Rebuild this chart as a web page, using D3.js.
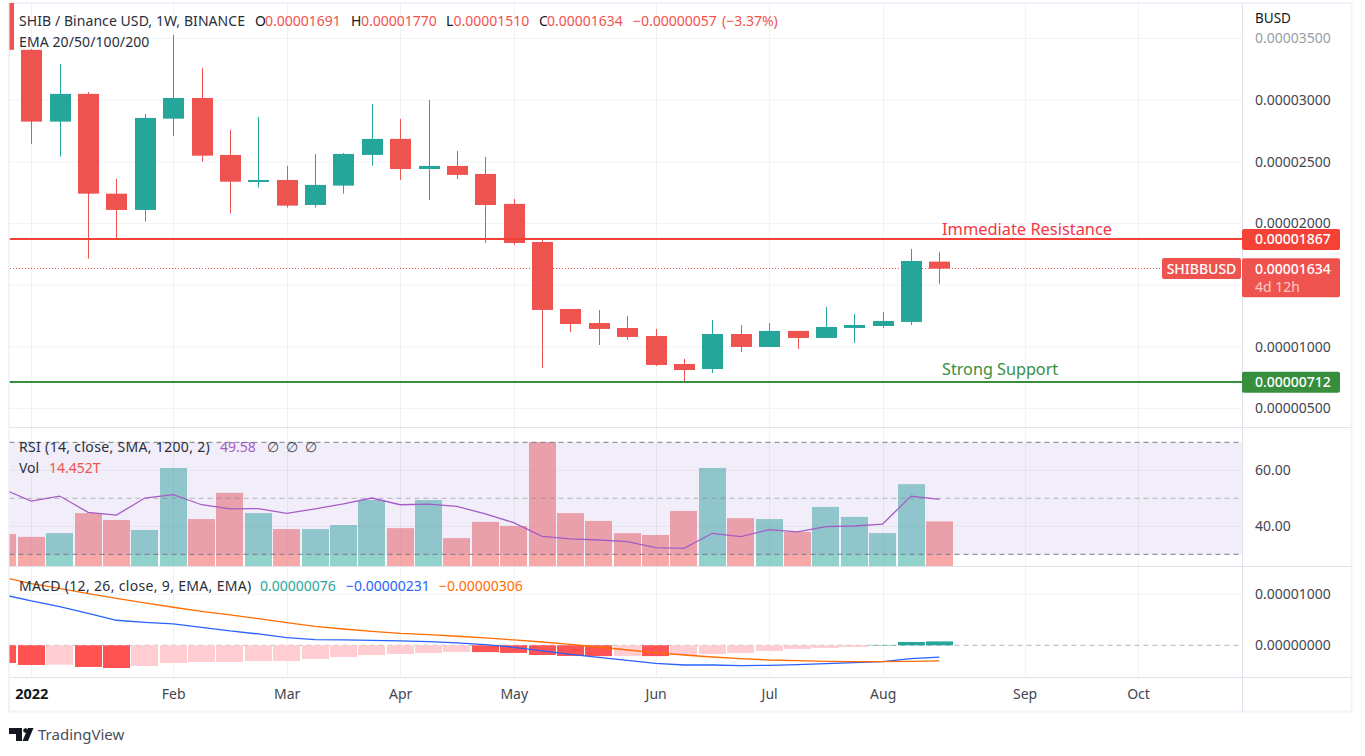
<!DOCTYPE html>
<html>
<head>
<meta charset="utf-8">
<script src="https://cdnjs.cloudflare.com/ajax/libs/d3/7.8.5/d3.min.js"></script>
<style>
  html, body { margin: 0; padding: 0; background: #fff; }
  svg { display: block; font-family: "Noto Sans", sans-serif; }
  .axis path, .axis line { display: none; }
  .axis text { fill: #434651; font-size: 14px; font-family: "Noto Sans", sans-serif; }
  .legend { font-size: 14px; fill: #131722; }
</style>
</head>
<body>
<div id="chart"></div>
<script>
// weekly candles, index -1 is the bar cut off by the left edge. prices in 1e-8 BUSD
var weeks = d3.range(-1, 33);
var opens  = [3900,3408,2826,3051,2242,2110,2850,3018,2556,2337,2353,2150,2307,2556,2686,2442,2467,2402,2159,1850,1307,1193,1153,1088,861,820,1104,999,1129,1072,1153,1169,1202,1691];
var highs  = [3950,3416,3294,3067,2361,2888,3529,3262,2759,2864,2467,2564,2572,2970,2848,3002,2588,2540,2199,1875,1307,1299,1250,1145,902,1218,1177,1193,1129,1323,1266,1283,1794,1770];
var lows   = [3400,2645,2542,1715,1877,2015,2710,2502,2080,2291,2129,2129,2242,2469,2353,2191,2361,1842,1826,829,1120,1015,1056,845,723,788,958,999,983,1072,1031,1153,1177,1510];
var closes = [3408,2826,3051,2242,2110,2856,3018,2550,2339,2353,2145,2313,2564,2686,2442,2467,2394,2150,1842,1299,1185,1145,1080,853,812,1104,999,1129,1072,1161,1177,1210,1696,1634];

// volume in trillions
var volumes = [10.4,9.5,10.7,17.1,14.9,11.7,31.6,15.2,23.6,17.1,12.0,12.0,13.3,21.3,12.3,21.3,9.1,14.3,13.0,39.9,17.1,14.6,10.7,10.1,17.8,31.6,15.5,15.2,11.1,19.1,15.9,10.7,26.4,14.452];
var rsi = [53.3,49.0,50.8,45.0,44.0,50.1,51.3,47.7,46.2,46.3,44.6,46.2,48.0,50.1,47.7,47.9,47.1,44.4,41.3,36.4,35.5,35.1,34.5,32.4,32.1,37.5,36.3,38.8,38.0,39.9,40.1,40.8,50.8,49.58];

// MACD in 1e-8
var macdLine = [994,870,759,628,491,451,419,353,281,222,150,111,105,98,85,72,46,13,-39,-111,-177,-235,-294,-353,-386,-386,-399,-392,-379,-360,-340,-320,-262,-231];
var signalLine = [1334,1210,1118,1014,922,831,746,667,595,523,445,373,320,275,235,209,177,144,105,65,20,-33,-92,-144,-190,-229,-262,-288,-301,-314,-320,-320,-314,-306];
var histogram = [-347,-386,-380,-425,-445,-405,-347,-327,-327,-307,-307,-268,-229,-190,-170,-150,-131,-133,-150,-190,-209,-212,-208,-212,-190,-170,-150,-111,-72,-52,-33,7,65,76];

var priceTicks = [500,1000,1500,2000,2500,3000,3500];
var rsiTicks = [40,60];
var macdTicks = [0,1000];
var monthTicks = [0,5,9,13,17,22,26,30,35,39];
var monthLabels = ["2022","Feb","Mar","Apr","May","Jun","Jul","Aug","Sep","Oct"];

var resistance = 1867, support = 712, lastPrice = 1634;

var RED = "#ef5350", GREEN = "#26a69a";
var W = 1365, H = 756;
var left = 9.5, right = 1242.5, paneTop = 3;
var priceBottom = 427.5, rsiBottom = 566.5, macdBottom = 677.5, frameBottom = 711.5;

var x = d3.scaleLinear().domain([0, 32]).range([31.3, 939.4]);
var yPrice = d3.scaleLinear().domain([500, 3500]).range([408.5, 38.5]);
var yRsi = d3.scaleLinear().domain([30, 70]).range([554.3, 442.3]);
var yVol = d3.scaleLinear().domain([0, 40]).range([566.5, 441.7]);
var yMacd = d3.scaleLinear().domain([0, 1000]).range([645.3, 594.3]);

var svg = d3.select("#chart").append("svg").attr("width", W).attr("height", H);

function clip(id, y0, y1) {
  svg.append("clipPath").attr("id", id).append("rect")
    .attr("x", left).attr("y", y0).attr("width", right - left).attr("height", y1 - y0);
  return svg.append("g").attr("clip-path", "url(#" + id + ")");
}

function hline(g, y, color, w, dash, op) {
  g.append("line").attr("x1", left).attr("x2", right).attr("y1", y).attr("y2", y)
    .attr("stroke", color).attr("stroke-width", w).attr("stroke-dasharray", dash || null)
    .attr("stroke-opacity", op || 1);
}

// frame
svg.append("rect").attr("x", 9).attr("y", 3).attr("width", 1342.5).attr("height", frameBottom - 3)
  .attr("fill", "none").attr("stroke", "#f0f3fa").attr("stroke-width", 2);

// grid
var gPrice = clip("c-price", paneTop, priceBottom);
var gRsi = clip("c-rsi", priceBottom, rsiBottom);
var gMacd = clip("c-macd", rsiBottom, macdBottom);

[[gPrice, paneTop, priceBottom], [gRsi, priceBottom, rsiBottom], [gMacd, rsiBottom, macdBottom]].forEach(function (p) {
  p[0].selectAll(".vgrid").data(monthTicks).enter().append("line").attr("class", "vgrid")
    .attr("x1", d => Math.round(x(d)) + 0.5).attr("x2", d => Math.round(x(d)) + 0.5)
    .attr("y1", p[1]).attr("y2", p[2]).attr("stroke", "#000").attr("stroke-opacity", 0.05);
});
priceTicks.forEach(d => hline(gPrice, yPrice(d), "#f0f3fa", 1));
rsiTicks.forEach(d => hline(gRsi, yRsi(d), "#000", 1, null, 0.05));
macdTicks.slice(1).forEach(d => hline(gMacd, yMacd(d), "#f0f3fa", 1));
hline(gMacd, yMacd(0), "#b2b5be", 1, "5 4");

// last price dotted line
gPrice.append("line").attr("x1", 10).attr("x2", 1162)
  .attr("y1", Math.floor(yPrice(lastPrice)) + 0.5).attr("y2", Math.floor(yPrice(lastPrice)) + 0.5)
  .attr("stroke", RED).attr("stroke-dasharray", "1 2");

// candles
var candles = weeks.map((w, i) => ({ w: w, o: opens[i], h: highs[i], l: lows[i], c: closes[i] }));
var candle = gPrice.selectAll(".candle").data(candles).enter().append("g").attr("class", "candle")
  .attr("fill", d => d.c >= d.o ? GREEN : RED);
candle.append("rect").attr("x", d => Math.round(x(d.w))).attr("width", 1)
  .attr("y", d => yPrice(d.h)).attr("height", d => yPrice(d.l) - yPrice(d.h));
candle.append("rect").attr("x", d => Math.round(x(d.w)) - 10).attr("width", 21)
  .attr("y", d => yPrice(Math.max(d.o, d.c)))
  .attr("height", d => Math.max(2, Math.abs(yPrice(d.o) - yPrice(d.c))));

// support and resistance
hline(gPrice, Math.round(yPrice(resistance) - 0.5), "#f44336", 2);
hline(gPrice, Math.round(yPrice(support) - 0.5), "#388e3c", 2);

// volume bars share the RSI pane, the RSI band tints them
gRsi.selectAll(".vol").data(volumes).enter().append("rect").attr("class", "vol")
  .attr("x", (d, i) => Math.round(x(weeks[i]) - 13.5)).attr("width", 27)
  .attr("y", d => yVol(d)).attr("height", d => yVol(0) - yVol(d))
  .attr("fill", (d, i) => closes[i] >= opens[i] ? GREEN : RED).attr("fill-opacity", 0.5);
gRsi.append("rect").attr("x", left).attr("width", right - left)
  .attr("y", yRsi(70)).attr("height", yRsi(30) - yRsi(70)).attr("fill", "#7e57c2").attr("fill-opacity", 0.1);

hline(gRsi, yRsi(70), "#787b86", 1, "5 4");
hline(gRsi, yRsi(50), "#787b86", 1, "5 4", 0.5);
hline(gRsi, yRsi(30), "#787b86", 1, "5 4");

function lineOf(y, vals) {
  return d3.line().x((d, i) => x(weeks[i])).y(d => y(d))(vals);
}
gRsi.append("path").attr("d", lineOf(yRsi, rsi)).attr("fill", "none")
  .attr("stroke", "#a45cc8").attr("stroke-width", 1.3);

// macd
gMacd.selectAll(".hist").data(histogram).enter().append("rect").attr("class", "hist")
  .attr("x", (d, i) => Math.round(x(weeks[i]) - 13.5)).attr("width", 27)
  .attr("y", d => Math.min(yMacd(d), yMacd(0))).attr("height", d => Math.abs(yMacd(d) - yMacd(0)))
  .attr("fill", (d, i) => d >= 0 ? GREEN : (i == 0 || d < histogram[i - 1] ? "#ff5252" : "#ffcdd2"));
gMacd.append("path").attr("d", lineOf(yMacd, macdLine)).attr("fill", "none")
  .attr("stroke", "#2962ff").attr("stroke-width", 1.3);
gMacd.append("path").attr("d", lineOf(yMacd, signalLine)).attr("fill", "none")
  .attr("stroke", "#ff6d00").attr("stroke-width", 1.3);

// pane dividers
[priceBottom, rsiBottom, macdBottom].forEach(function (y) {
  svg.append("line").attr("x1", left).attr("x2", 1351).attr("y1", y).attr("y2", y)
    .attr("stroke", "#e0e3eb");
});
svg.append("line").attr("x1", right).attr("x2", right).attr("y1", 3).attr("y2", frameBottom)
  .attr("stroke", "#e0e3eb");

// axes
function fmt8(d) { return (d / 1e8).toFixed(8); }
var axisPrice = svg.append("g").attr("class", "axis").attr("transform", "translate(1243,0)")
  .call(d3.axisRight(yPrice).tickValues(priceTicks).tickFormat(fmt8).tickSize(0).tickPadding(12));
axisPrice.selectAll("text").filter(d => d == 3500).style("fill", "#9a9ca5");
svg.append("g").attr("class", "axis").attr("transform", "translate(1243,0)")
  .call(d3.axisRight(yRsi).tickValues(rsiTicks).tickFormat(d3.format(".2f")).tickSize(0).tickPadding(12));
svg.append("g").attr("class", "axis").attr("transform", "translate(1243,0)")
  .call(d3.axisRight(yMacd).tickValues(macdTicks).tickFormat(fmt8).tickSize(0).tickPadding(12));
var axisTime = svg.append("g").attr("class", "axis").attr("transform", "translate(0,694)")
  .call(d3.axisBottom(x).tickValues(monthTicks).tickFormat((d, i) => monthLabels[i]).tickSize(0).tickPadding(0));
axisTime.selectAll("text").attr("dy", "0.35em").attr("y", 0);
axisTime.selectAll("text").filter(d => d == 0).style("font-weight", "700").style("fill", "#131722").style("font-size", "14.5px");

svg.append("text").attr("x", 1255).attr("y", 23).attr("font-size", 13.5).attr("fill", "#131722").text("BUSD");

// price labels on the axis
function priceTag(y0, h, color, txt) {
  svg.append("rect").attr("x", 1242).attr("y", y0).attr("width", 98).attr("height", h).attr("rx", 2).attr("fill", color);
  svg.append("text").attr("x", 1255).attr("y", y0 + 15.5).attr("font-size", 14).attr("font-weight", 500)
    .attr("fill", "#fff").text(txt);
}
priceTag(yPrice(resistance) - 11, 21, "#f44336", fmt8(resistance));
priceTag(yPrice(lastPrice) - 10.5, 39, RED, fmt8(lastPrice));
svg.append("text").attr("x", 1255).attr("y", 292).attr("font-size", 14).attr("fill", "#fff").attr("fill-opacity", 0.7).text("4d 12h");
priceTag(yPrice(support) - 10.5, 21, "#388e3c", fmt8(support));
svg.append("rect").attr("x", 1162).attr("y", 258).attr("width", 79).attr("height", 21).attr("rx", 2).attr("fill", RED);
svg.append("text").attr("x", 1201.5).attr("y", 273.5).attr("text-anchor", "middle").attr("font-size", 14)
  .attr("font-weight", 500).attr("fill", "#fff").text("SHIBBUSD");

// drawing labels
svg.append("text").attr("x", 942).attr("y", 234.5).attr("font-size", 16.4).attr("fill", "#f23645").text("Immediate Resistance");
svg.append("text").attr("x", 942).attr("y", 374.5).attr("font-size", 16.2).attr("fill", "#388e3c").text("Strong Support");

// legends: [x, text, colour, letter spacing]
function legend(y, parts) {
  var t = svg.append("text").attr("class", "legend").attr("y", y);
  parts.forEach(function (p) {
    t.append("tspan").attr("x", p[0]).attr("fill", p[2] || "#131722")
      .attr("letter-spacing", p[3] || null).text(p[1]);
  });
}
legend(26, [[19, "SHIB / Binance USD, 1W, BINANCE", "#2a2e39", 0.07], [255, "O"], [265, "0.00001691", RED], [351, "H"], [361, "0.00001770", RED], [446, "L"], [453.5, "0.00001510", RED], [539, "C"], [547, "0.00001634", RED], [633, "\u22120.00000057", RED], [722, "(\u22123.37%)", RED]]);
legend(47, [[19, "EMA 20/50/100/200", "#2a2e39", 0.1]]);
legend(452, [[19, "RSI (14, close, SMA, 1200, 2)", "#2a2e39", 0.33], [220, "49.58", "#a45cc8"], [267, "\u2205", "#434651"], [286, "\u2205", "#434651"], [305, "\u2205", "#434651"]]);
legend(473, [[19, "Vol", "#2a2e39"], [49, "14.452T", RED]]);
legend(591, [[19, "MACD (12, 26, close, 9, EMA, EMA)", "#2a2e39", 0.33], [260, "0.00000076", GREEN], [346, "\u22120.00000231", "#2962ff"], [439, "\u22120.00000306", "#ff6d00"]]);

// TradingView mark
svg.append("path").attr("fill", "#131722")
  .attr("d", "M9 728h13v13h-6v-7H9z M28 728h5.5l-5.5 13h-5.5z");
svg.append("circle").attr("cx", 25.5).attr("cy", 730.5).attr("r", 2.3).attr("fill", "#131722");
svg.append("text").attr("x", 38).attr("y", 739.5).attr("font-size", 15).attr("fill", "#4a4e5a").text("TradingView");
</script>
</body>
</html>
